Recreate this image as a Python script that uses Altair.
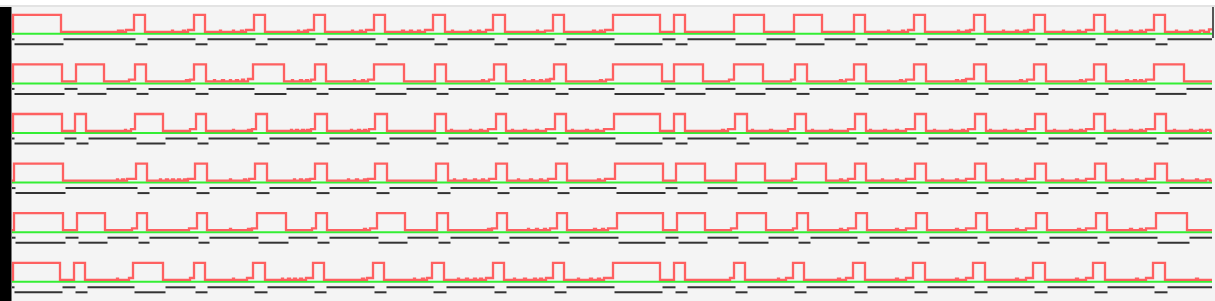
import altair as alt
import pandas as pd

# High (on) intervals of each trace (time units).
ROW1 = [[13, 61], [134, 145], [194, 205], [254, 265], [314, 325], [374, 385], [433, 445],
        [493, 505], [553, 564], [613, 660], [674, 685], [734, 764], [794, 822], [854, 865],
        [914, 925], [974, 985], [1034, 1045], [1094, 1105], [1154, 1165]]
ROW2 = [[13, 62], [76, 104], [135, 146], [194, 206], [253, 284], [315, 326], [374, 404],
        [435, 446], [494, 506], [554, 566], [613, 662], [674, 703], [734, 763], [795, 807],
        [854, 866], [914, 926], [974, 986], [1034, 1046], [1094, 1106], [1154, 1184]]
ROW3 = [[13, 62], [75, 86], [135, 163], [196, 206], [256, 267], [315, 327], [375, 387],
        [435, 446], [496, 506], [555, 566], [614, 660], [674, 685], [735, 747], [795, 806],
        [855, 866], [915, 926], [975, 986], [1035, 1046], [1094, 1105], [1155, 1166]]
ROW4 = [[14, 63], [136, 147], [195, 207], [255, 267], [315, 327], [375, 387], [436, 448],
        [496, 507], [556, 567], [615, 663], [676, 705], [736, 765], [796, 826], [855, 866],
        [915, 926], [975, 986], [1035, 1046], [1095, 1106], [1155, 1167]]
ROW5 = [[14, 63], [77, 105], [137, 147], [197, 207], [257, 286], [316, 327], [377, 405],
        [437, 448], [497, 507], [557, 567], [617, 663], [677, 705], [737, 766], [797, 808],
        [856, 867], [916, 927], [976, 987], [1036, 1047], [1096, 1107], [1156, 1187]]
ROW6 = [[13, 60], [74, 85], [133, 163], [194, 205], [253, 265], [313, 324], [373, 384],
        [432, 444], [493, 504], [553, 564], [613, 660], [674, 685], [734, 745], [793, 804],
        [853, 865], [913, 925], [973, 985], [1033, 1045], [1093, 1105], [1153, 1165]]
ROWS = [ROW1, ROW2, ROW3, ROW4, ROW5, ROW6]

# Small noise bumps on the low level: [start, end, height]
NOISE1 = [[118, 119, 2], [121, 123, 2], [126, 134, 3], [172, 173, 2], [183, 185, 2], [188, 194, 3],
          [220, 221, 2], [233, 234, 2], [241, 243, 2], [246, 254, 3], [298, 299, 2], [304, 306, 2],
          [308, 314, 3], [352, 353, 2], [360, 362, 2], [366, 374, 3], [402, 404, 2], [410, 412, 2],
          [418, 420, 2], [425, 433, 3], [452, 453, 2], [470, 471, 2], [478, 480, 2], [486, 493, 3],
          [537, 538, 2], [545, 553, 2], [593, 595, 2], [600, 602, 2], [605, 613, 3], [888, 889, 2],
          [902, 904, 2], [908, 914, 3], [958, 959, 2], [966, 968, 2], [970, 974, 3], [1003, 1004, 2],
          [1016, 1018, 2], [1024, 1026, 2], [1028, 1034, 3], [1063, 1064, 2], [1078, 1080, 2],
          [1086, 1094, 3], [1116, 1117, 2], [1130, 1132, 2], [1140, 1142, 2], [1146, 1154, 3],
          [1176, 1177, 2], [1190, 1192, 2], [1200, 1204, 2], [1209, 1212, 4]]
NOISE2 = [[129, 135, 3], [186, 188, 2], [190, 194, 3], [214, 215, 2], [222, 224, 2], [230, 231, 2],
          [236, 238, 2], [242, 244, 3], [248, 253, 4], [292, 293, 2], [300, 302, 2], [306, 308, 2],
          [311, 315, 3], [354, 355, 2], [362, 364, 2], [368, 374, 3], [482, 484, 2], [489, 494, 3],
          [524, 525, 2], [532, 534, 2], [540, 542, 2], [546, 548, 3], [550, 554, 4], [600, 602, 2],
          [606, 613, 3], [729, 734, 3], [791, 795, 3], [840, 842, 2], [846, 854, 3], [900, 902, 2],
          [906, 914, 3], [956, 958, 2], [962, 964, 2], [966, 974, 4], [1020, 1022, 2], [1027, 1034, 3],
          [1080, 1082, 2], [1086, 1094, 3], [1126, 1128, 2], [1134, 1136, 2], [1140, 1142, 2],
          [1146, 1154, 3]]
NOISE3 = [[125, 126, 2], [131, 135, 3], [190, 196, 3], [233, 234, 2], [248, 250, 2], [252, 256, 3],
          [291, 292, 2], [296, 298, 2], [302, 304, 2], [307, 309, 2], [311, 315, 3], [351, 352, 2],
          [358, 360, 2], [364, 366, 2], [369, 375, 3], [451, 452, 2], [470, 471, 2], [480, 482, 2],
          [488, 496, 3], [512, 513, 2], [524, 526, 2], [536, 538, 2], [546, 555, 3], [572, 573, 2],
          [586, 588, 2], [596, 598, 2], [604, 614, 3], [722, 724, 2], [728, 735, 3], [752, 753, 2],
          [770, 772, 2], [788, 795, 3], [812, 813, 2], [830, 832, 2], [848, 855, 3], [870, 871, 2],
          [884, 886, 2], [896, 898, 2], [906, 915, 3], [934, 935, 2], [950, 952, 2], [962, 964, 2],
          [968, 975, 3], [990, 991, 2], [1004, 1006, 2], [1016, 1018, 2], [1026, 1035, 3],
          [1054, 1055, 2], [1070, 1072, 2], [1080, 1082, 2], [1086, 1094, 3], [1114, 1115, 2],
          [1130, 1132, 2], [1140, 1142, 2], [1146, 1155, 3], [1174, 1175, 2], [1190, 1192, 2],
          [1200, 1202, 2], [1206, 1210, 2]]
NOISE4 = [[117, 118, 2], [122, 124, 2], [127, 136, 3], [160, 161, 2], [166, 168, 2], [172, 174, 2],
          [178, 180, 2], [184, 186, 2], [188, 195, 3], [230, 231, 2], [244, 246, 2], [249, 255, 3],
          [294, 295, 2], [300, 302, 2], [306, 308, 2], [310, 315, 3], [348, 349, 2], [356, 358, 2],
          [364, 366, 2], [368, 375, 3], [454, 455, 2], [464, 466, 2], [474, 476, 2], [482, 484, 2],
          [489, 496, 3], [518, 519, 2], [530, 532, 2], [540, 542, 2], [548, 556, 3], [598, 600, 2],
          [605, 615, 3], [792, 796, 3], [840, 842, 2], [848, 855, 3], [882, 883, 2], [896, 898, 2],
          [906, 915, 3], [942, 943, 2], [956, 958, 2], [966, 975, 3], [1002, 1003, 2],
          [1016, 1018, 2], [1026, 1035, 3], [1062, 1063, 2], [1076, 1078, 2], [1086, 1095, 3],
          [1122, 1123, 2], [1136, 1138, 2], [1146, 1155, 3], [1182, 1183, 2], [1196, 1198, 2],
          [1206, 1210, 2]]
NOISE5 = [[132, 137, 3], [189, 197, 3], [230, 231, 2], [248, 250, 2], [252, 257, 3], [312, 316, 3],
          [364, 366, 2], [370, 377, 3], [488, 490, 2], [492, 497, 3], [528, 529, 2], [536, 538, 2],
          [544, 546, 2], [550, 557, 3], [594, 596, 2], [602, 604, 2], [608, 617, 3], [731, 737, 3],
          [793, 797, 3], [840, 842, 2], [848, 856, 3], [896, 898, 2], [906, 916, 3], [956, 958, 2],
          [966, 976, 3], [1016, 1018, 2], [1026, 1036, 3], [1078, 1080, 2], [1086, 1096, 3],
          [1130, 1132, 2], [1140, 1142, 2], [1146, 1156, 3]]
NOISE6 = [[117, 118, 2], [129, 133, 3], [190, 194, 3], [233, 234, 2], [247, 253, 3], [282, 283, 2],
          [288, 290, 2], [294, 296, 2], [300, 302, 2], [306, 313, 3], [362, 364, 2], [367, 373, 3],
          [414, 415, 2], [422, 424, 2], [427, 432, 3], [458, 459, 2], [466, 468, 2], [474, 476, 2],
          [480, 482, 2], [486, 493, 3], [514, 515, 2], [524, 526, 2], [534, 536, 2], [540, 542, 2],
          [546, 553, 3], [578, 579, 2], [590, 592, 2], [598, 600, 2], [604, 613, 3], [730, 734, 3],
          [778, 779, 2], [786, 793, 3], [838, 840, 2], [846, 853, 3], [896, 898, 2], [906, 913, 3],
          [956, 958, 2], [966, 973, 3], [1016, 1018, 2], [1026, 1033, 3], [1076, 1078, 2],
          [1086, 1093, 3], [1136, 1138, 2], [1146, 1153, 3], [1196, 1198, 2]]
NOISES = [NOISE1, NOISE2, NOISE3, NOISE4, NOISE5, NOISE6]

T_START = 12
T_END = 1212

# layout constants (pixels)
W, H = 1215, 301
BASE0 = 33.8
ROW_STEP = 49.6
HIGH_H = 19.0
LOW_H = 2.0
NOISE_PX = 0.6   # pixels per noise unit
UP_BAR = 5.5
LO_BAR = 10.5
DELAY = 1.5

red, green, bars = [], [], []
for r, (pulses, noise) in enumerate(zip(ROWS, NOISES)):
    base = BASE0 + ROW_STEP * r
    hi, lo = base - HIGH_H, base - LOW_H
    cuts = {T_START, T_END}
    for a, b in pulses:
        cuts.update([a, b])
    for a, b, _ in noise:
        cuts.update([a, b])
    cuts = sorted(c for c in cuts if T_START <= c <= T_END)

    def level(t):
        for a, b in pulses:
            if a <= t < b:
                return hi
        h = 0
        for a, b, hh in noise:
            if a <= t < b:
                h = max(h, hh)
        return lo - h * NOISE_PX

    i = 0
    last = None
    for c in cuts[:-1]:
        y = level(c + 0.01)
        if y != last:
            red.append({"row": r, "i": i, "t": c, "y": y})
            i += 1
            last = y
    red.append({"row": r, "i": i, "t": T_END, "y": last})

    green.append({"row": r, "t": T_START, "t2": T_END, "y": base})
    prev = T_START
    for a, b in pulses:
        if a + DELAY > prev + 0.5:
            bars.append({"row": r, "t": prev, "t2": a + DELAY, "y": base + UP_BAR})
        bars.append({"row": r, "t": a + DELAY, "t2": b + DELAY + 1, "y": base + LO_BAR})
        prev = b + DELAY + 1
    bars.append({"row": r, "t": prev, "t2": T_END, "y": base + UP_BAR})

red_df = pd.DataFrame(red)
green_df = pd.DataFrame(green)
bars_df = pd.DataFrame(bars)

xs = alt.Scale(domain=[0, W], range=[0, W], nice=False, zero=False)
ys = alt.Scale(domain=[0, H], range=[0, H], nice=False, zero=False)
one = pd.DataFrame({"k": [0]})

bg = alt.Chart(one).mark_rect(color="#f4f4f4").encode(
    x=alt.value(0), x2=alt.value(W), y=alt.value(7), y2=alt.value(H))
topline = alt.Chart(one).mark_rule(color="#e3e3e3", strokeWidth=2).encode(
    x=alt.value(0), x2=alt.value(W), y=alt.value(6))
leftbar = alt.Chart(one).mark_rect(color="#000000").encode(
    x=alt.value(0), x2=alt.value(11.5), y=alt.value(7), y2=alt.value(H))
rightline = alt.Chart(one).mark_rule(color="#222222", strokeWidth=1.5).encode(
    x=alt.value(1213), y=alt.value(7), y2=alt.value(38))

green_l = alt.Chart(green_df).mark_rule(color="#33ee33", strokeWidth=2).encode(
    x=alt.X("t:Q", scale=xs, axis=None), x2="t2:Q",
    y=alt.Y("y:Q", scale=ys, axis=None))
bars_l = alt.Chart(bars_df).mark_rule(color="#333333", strokeWidth=2).encode(
    x=alt.X("t:Q", scale=xs, axis=None), x2="t2:Q",
    y=alt.Y("y:Q", scale=ys, axis=None))
red_l = alt.Chart(red_df).mark_line(color="#ff4545", strokeWidth=2.3, opacity=0.85,
                                    interpolate="step-after").encode(
    x=alt.X("t:Q", scale=xs, axis=None),
    y=alt.Y("y:Q", scale=ys, axis=None),
    detail="row:N", order="i:Q")

chart = alt.layer(bg, topline, leftbar, rightline, green_l, bars_l, red_l).properties(
    width=W, height=H, padding=0, autosize=alt.AutoSizeParams(type="none"),
    background="#ffffff",
).configure_view(stroke=None)

chart.save("out.html", embed_options={"renderer": "svg", "actions": False})
